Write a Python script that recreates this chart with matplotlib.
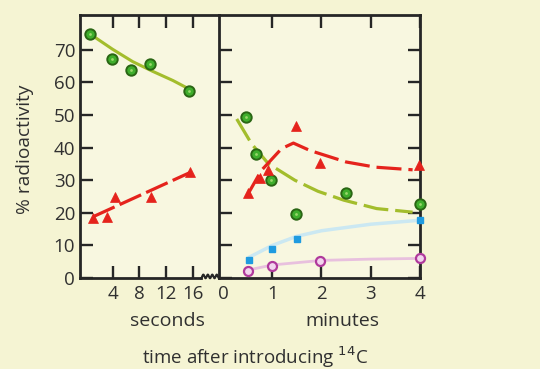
import numpy as np
import matplotlib
matplotlib.use("Agg")
import matplotlib.pyplot as plt
import matplotlib.transforms as mtransforms

plt.rcParams['font.family'] = ['Open Sans', 'DejaVu Sans']
plt.rcParams['lines.scale_dashes'] = False

# ---------------- data ----------------
# left panel: seconds
sec_ticks = [4, 8, 12, 16]
sec_green_t = [0.7, 3.9, 6.8, 9.6, 15.4]
sec_green_v = [74.8, 67.1, 63.9, 65.6, 57.4]
sec_green_curve_t = [0.7, 4, 7, 10, 13, 15.4]
sec_green_curve_v = [74.8, 70.2, 66.4, 63.4, 60.6, 58.0]
sec_red_t = [1.1, 3.2, 4.3, 9.8, 15.6]
sec_red_v = [18.3, 18.6, 25.0, 24.8, 32.6]
sec_red_line_t = [1.1, 15.8]
sec_red_line_v = [18.8, 32.6]

# right panel: minutes
min_ticks = [0, 1, 2, 3, 4]
min_green_t = [0.47, 0.67, 0.97, 1.49, 2.49, 4.0]
min_green_v = [49.3, 38.0, 30.1, 19.7, 26.2, 22.6]
min_green_curve_t = [0.28, 0.58, 0.92, 1.46, 1.93, 2.45, 3.12, 3.85]
min_green_curve_v = [48.8, 41.2, 35.1, 30.0, 26.6, 23.9, 21.3, 20.2]
min_red_t = [0.51, 0.75, 0.92, 1.49, 1.97, 3.98]
min_red_v = [26.0, 30.8, 33.2, 46.7, 35.2, 34.7]
min_red_curve_t = [0.48, 0.78, 1.19, 1.43, 1.77, 2.5, 3.1, 3.85]
min_red_curve_v = [25.0, 33.0, 39.7, 41.4, 39.1, 35.6, 34.0, 33.2]
min_blue_t = [0.53, 0.99, 1.51, 4.0]
min_blue_v = [5.5, 9.0, 11.9, 17.8]
min_blue_curve_t = [0.55, 1.0, 1.5, 2.0, 3.0, 3.9]
min_blue_curve_v = [6.5, 10.0, 12.8, 14.5, 16.5, 17.6]
min_purple_t = [0.51, 0.99, 1.98, 4.0]
min_purple_v = [2.2, 3.8, 5.2, 6.2]
min_purple_curve_t = [0.5, 1.0, 2.0, 3.0, 3.95]
min_purple_curve_v = [2.4, 4.0, 5.4, 5.8, 6.0]

y_ticks = [0, 10, 20, 30, 40, 50, 60, 70]

# ---------------- style ----------------
BG = '#f5f4d3'
AXBG = '#f8f7e0'
INK = '#262626'
TXT = '#303030'
GREEN_LINE = '#a3bd2c'
GREEN_FILL = '#3fae2c'
GREEN_EDGE = '#2a6614'
RED = '#e5231c'
BLUE = '#1f9be0'
BLUE_LINE = '#cbe8f2'
PURPLE_EDGE = '#b03a9c'
PURPLE_FILL = '#f2d4ee'
PURPLE_LINE = '#e8c0de'

W, H = 540, 369
fig = plt.figure(figsize=(W / 100, H / 100), dpi=100, facecolor=BG)

def frac(x0, y0, x1, y1):
    return [x0 / W, 1 - y1 / H, (x1 - x0) / W, (y1 - y0) / H]

axL = fig.add_axes(frac(80, 15, 219, 278))
axR = fig.add_axes(frac(219, 15, 420, 278))

YMAX = 80.7
for ax in (axL, axR):
    ax.set_facecolor(AXBG)
    ax.set_ylim(0, YMAX)
    for s in ax.spines.values():
        s.set_linewidth(2.0)
        s.set_color(INK)
    ax.tick_params(direction='in', length=9, width=1.7, color=INK,
                   labelsize=13.5, labelcolor=TXT)

# left panel
axL.set_xlim(-0.85, 19.87)
axL.spines['right'].set_visible(False)
axL.spines['bottom'].set_bounds(-0.85, 17.2)
axL.set_xticks(sec_ticks)
axL.set_yticks(y_ticks)
axL.tick_params(axis='x', top=True, bottom=True, pad=5)
axL.tick_params(axis='y', left=True, right=False, pad=3.5)

# squiggle (axis break)
trans = mtransforms.blended_transform_factory(axL.transData, axL.transAxes)
sq_x = np.linspace(17.2, 19.87, 200)
sq_y = 0.006 + 0.007 * np.sin((sq_x - 17.2) / (19.87 - 17.2) * 2 * np.pi * 4 - np.pi / 2)
axL.plot(sq_x, sq_y, color=INK, lw=1.5, transform=trans, clip_on=False, zorder=5)

axL.plot(sec_green_curve_t, sec_green_curve_v, color=GREEN_LINE, lw=2.2,
         solid_capstyle='round', zorder=2)
axL.plot(sec_red_line_t, sec_red_line_v, color=RED, lw=2.3,
         dashes=(17, 4), zorder=2)
axL.plot(sec_green_t, sec_green_v, 'o', ms=7.5, mfc=GREEN_FILL, mec=GREEN_EDGE,
         mew=1.4, zorder=3)
axL.plot(sec_green_t, sec_green_v, 'o', ms=2.0, mfc='#9ad86a', mec='none', zorder=4)
axL.plot(sec_red_t, sec_red_v, '^', ms=7.5, mfc=RED, mec=RED, mew=0.5, zorder=3)

# right panel
axR.set_xlim(-0.08, 4.0)
axR.set_xticks(min_ticks)
axR.set_yticks(y_ticks)
axR.tick_params(axis='x', top=True, bottom=True, pad=5)
axR.tick_params(axis='y', left=True, right=True, labelleft=False)
t0 = axR.xaxis.get_major_ticks()[0]
t0.tick1line.set_visible(False)
t0.tick2line.set_visible(False)

axR.plot(min_blue_curve_t, min_blue_curve_v, color=BLUE_LINE, lw=2.5, zorder=2)
axR.plot(min_purple_curve_t, min_purple_curve_v, color=PURPLE_LINE, lw=2.0, zorder=2)
axR.plot(min_green_curve_t, min_green_curve_v, color=GREEN_LINE, lw=2.3,
         dashes=(18, 5), zorder=2)
axR.plot(min_red_curve_t, min_red_curve_v, color=RED, lw=2.3,
         dashes=(18, 5), zorder=2)
axR.plot(min_green_t, min_green_v, 'o', ms=7.5, mfc=GREEN_FILL, mec=GREEN_EDGE,
         mew=1.4, zorder=3, clip_on=False)
axR.plot(min_green_t, min_green_v, 'o', ms=2.0, mfc='#9ad86a', mec='none', zorder=4,
         clip_on=False)
axR.plot(min_red_t, min_red_v, '^', ms=7.5, mfc=RED, mec=RED, mew=0.5, zorder=3,
         clip_on=False)
axR.plot(min_blue_t, min_blue_v, 's', ms=5.0, mfc=BLUE, mec=BLUE, zorder=3,
         clip_on=False)
axR.plot(min_purple_t, min_purple_v, 'o', ms=6.5, mfc=PURPLE_FILL, mec=PURPLE_EDGE,
         mew=1.6, zorder=3, clip_on=False)

# labels
fig.text(25 / W, 1 - 149 / H, '% radioactivity', rotation=90, ha='center',
         va='center', fontsize=13.8, color=TXT)
fig.text(167 / W, 1 - 321 / H, 'seconds', ha='center', va='center',
         fontsize=14, color=TXT)
fig.text(342 / W, 1 - 321 / H, 'minutes', ha='center', va='center',
         fontsize=14, color=TXT)
fig.text(255 / W, 1 - 357 / H, r'time after introducing $^{14}$C', ha='center',
         va='center', fontsize=13.5, color=TXT)

fig.savefig('out.png', dpi=100, facecolor=BG)
